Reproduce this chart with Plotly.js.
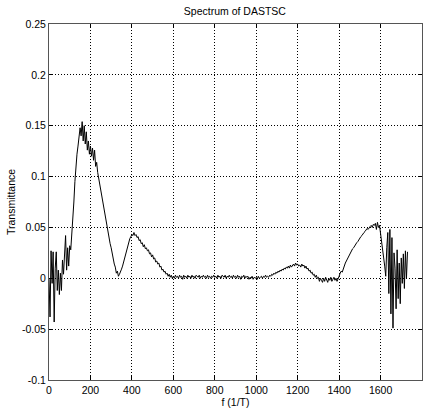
<!DOCTYPE html>
<html>
<head>
<meta charset="utf-8">
<script src="https://cdn.plot.ly/plotly-3.0.1.min.js"></script>
<style>html,body{margin:0;padding:0;background:#fff;}#chart{width:431px;height:410px;}</style>
</head>
<body>
<div id="chart"></div>
<script>
// Frequency grid start and step (1/T)
const freqStart = 0;
const freqStep = 5;

// Transmittance, one value every 5 units of f (20 per row = 100 units)
const transmittance = [
  0.000,-0.038,0.027,-0.005,0.026,-0.043,0.010,0.026,-0.012,0.008,-0.016,0.005,-0.012,0.018,0.004,0.025,0.042,0.008,0.030,0.012,   // 0-95
  0.032,0.028,0.042,0.055,0.075,0.095,0.112,0.122,0.130,0.138,0.148,0.140,0.154,0.135,0.150,0.132,0.144,0.126,0.135,0.122,         // 100-195
  0.130,0.120,0.128,0.116,0.126,0.110,0.114,0.104,0.098,0.090,0.084,0.078,0.072,0.068,0.062,0.055,0.050,0.044,0.040,0.034,         // 200-295
  0.030,0.024,0.020,0.014,0.011,0.005,0.007,0.002,0.004,0.006,0.009,0.012,0.016,0.021,0.025,0.029,0.033,0.036,0.039,0.041,         // 300-395
  0.043,0.042,0.045,0.042,0.043,0.040,0.041,0.037,0.038,0.034,0.035,0.031,0.033,0.029,0.030,0.027,0.028,0.024,0.025,0.021,         // 400-495
  0.023,0.019,0.020,0.016,0.017,0.014,0.015,0.011,0.012,0.008,0.009,0.006,0.007,0.004,0.005,0.002,0.004,0.001,0.003,0.000,         // 500-595
  0.002,0.000,0.003,0.001,0.002,0.000,0.003,0.001,0.002,-0.001,0.003,0.001,0.002,0.000,0.003,0.001,0.002,0.000,0.003,0.001,        // 600-695
  0.002,0.000,0.003,0.002,0.001,0.003,0.000,0.002,0.001,0.003,0.001,0.002,0.000,0.003,0.001,0.002,0.000,0.002,0.001,0.003,         // 700-795
  0.001,0.002,0.000,0.003,0.001,0.002,0.000,0.003,0.002,0.001,0.003,0.000,0.002,0.001,0.003,0.001,0.002,0.000,0.003,0.001,         // 800-895
  0.002,0.000,0.003,0.001,0.002,-0.001,0.002,0.001,0.003,0.000,0.002,0.001,0.002,-0.001,0.001,0.000,0.002,-0.001,0.001,0.000,      // 900-995
  0.001,-0.001,0.002,0.000,0.001,0.002,0.000,0.002,0.001,0.003,0.001,0.002,0.001,0.003,0.002,0.004,0.003,0.005,0.004,0.006,        // 1000-1095
  0.005,0.007,0.006,0.008,0.007,0.009,0.008,0.010,0.009,0.011,0.010,0.012,0.010,0.013,0.011,0.012,0.014,0.012,0.015,0.013,         // 1100-1195
  0.014,0.012,0.013,0.011,0.014,0.012,0.013,0.010,0.012,0.009,0.010,0.007,0.008,0.005,0.006,0.003,0.004,0.001,0.003,0.000,         // 1200-1295
  0.001,-0.003,0.000,-0.002,-0.004,0.000,-0.003,0.001,-0.002,-0.004,0.000,-0.002,0.001,-0.003,-0.001,0.001,-0.002,0.000,-0.003,0.001, // 1300-1395
  0.002,0.005,0.007,0.006,0.010,0.012,0.015,0.017,0.019,0.022,0.024,0.026,0.027,0.029,0.030,0.032,0.033,0.035,0.036,0.038,         // 1400-1495
  0.040,0.041,0.042,0.044,0.045,0.046,0.047,0.049,0.048,0.050,0.051,0.052,0.050,0.053,0.052,0.054,0.048,0.055,0.050,0.052,         // 1500-1595
  0.045,0.038,0.030,0.020,0.012,0.002,0.030,0.045,-0.015,0.048,-0.035,0.040,-0.049,0.025,0.010,-0.030,0.028,-0.020,0.015,-0.025,   // 1600-1695
  0.020,-0.005,0.024,-0.010,0.027,0.000,0.026                                                                                        // 1700-1730
];

const freq = transmittance.map((_, i) => freqStart + i * freqStep);

const xTicks = [0, 200, 400, 600, 800, 1000, 1200, 1400, 1600, 1800];
const yTicks = [-0.1, -0.05, 0, 0.05, 0.1, 0.15, 0.2, 0.25];
const yTickText = ['-0.1', '-0.05', '0', '0.05', '0.1', '0.15', '0.2', '0.25'];

const font = {family: 'Liberation Sans, Arial, sans-serif', size: 10.5, color: '#000'};

const axisCommon = {
  showline: true, linecolor: '#555', linewidth: 1, mirror: 'ticks',
  ticks: 'inside', ticklen: 4, tickcolor: '#000',
  showgrid: true, gridcolor: '#000', griddash: '1px,2px', gridwidth: 1,
  zeroline: false, tickfont: font
};

Plotly.newPlot('chart', [{
  x: freq, y: transmittance, type: 'scatter', mode: 'lines',
  line: {color: '#000', width: 1}
}], {
  width: 431, height: 410,
  margin: {l: 49, r: 9, t: 24, b: 30},
  paper_bgcolor: '#fff', plot_bgcolor: '#fff',
  showlegend: false,
  title: {text: 'Spectrum of DASTSC', font: font, x: 0.545, xanchor: 'center', y: 0.972, yanchor: 'middle', yref: 'container'},
  xaxis: Object.assign({}, axisCommon, {
    range: [0, 1800], tickvals: xTicks, ticktext: xTicks.map(String),
    title: {text: 'f (1/T)', font: font, standoff: 1}
  }),
  yaxis: Object.assign({}, axisCommon, {
    range: [-0.1, 0.25], tickvals: yTicks, ticktext: yTickText,
    title: {text: 'Transmittance', font: font, standoff: 4}
  })
}, {displayModeBar: false, staticPlot: true});
</script>
</body>
</html>
